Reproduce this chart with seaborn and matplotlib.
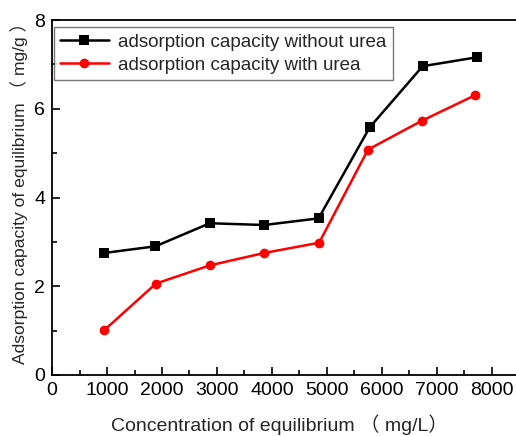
import matplotlib
matplotlib.use("Agg")
import matplotlib.pyplot as plt
from matplotlib.ticker import MultipleLocator
import seaborn as sns
import pandas as pd

# Equilibrium concentration (mg/L) and adsorption capacity (mg/g)
conc_without = [950, 1880, 2870, 3860, 4850, 5780, 6745, 7730]
cap_without = [2.75, 2.90, 3.42, 3.38, 3.53, 5.58, 6.96, 7.16]
conc_with = [950, 1890, 2870, 3860, 4860, 5750, 6730, 7690]
cap_with = [1.01, 2.06, 2.47, 2.75, 2.98, 5.08, 5.73, 6.30]
series_names = ["adsorption capacity without urea", "adsorption capacity with urea"]

df = pd.concat([
    pd.DataFrame({"conc": conc_without, "cap": cap_without, "series": series_names[0]}),
    pd.DataFrame({"conc": conc_with, "cap": cap_with, "series": series_names[1]}),
])

sns.set_style("white")
plt.rcParams["font.family"] = ["Liberation Sans", "Noto Sans CJK SC", "DejaVu Sans"]

fig = plt.figure(figsize=(5.16, 4.36), dpi=100)
ax = fig.add_axes([0.101, 0.140, 0.905, 0.814])

sns.lineplot(data=df, x="conc", y="cap", hue="series", style="series",
             hue_order=series_names, style_order=series_names,
             palette=["black", "#ff0000"], markers=["s", "o"], dashes=False,
             markersize=7, markeredgewidth=0, linewidth=1.8, ax=ax)

ax.set_xlim(0, 8500)
ax.set_ylim(0, 8)
ax.xaxis.set_major_locator(MultipleLocator(1000))
ax.xaxis.set_minor_locator(MultipleLocator(500))
ax.yaxis.set_major_locator(MultipleLocator(2))
ax.yaxis.set_minor_locator(MultipleLocator(1))
ax.tick_params(which="both", direction="in", bottom=True, left=True,
               top=False, right=False, width=1.2, color="black")
ax.tick_params(which="major", length=6, labelsize=14, pad=5, labelcolor="black")
ax.tick_params(which="minor", length=3.5)
for side in ["left", "bottom", "top"]:
    ax.spines[side].set_color("black")
    ax.spines[side].set_linewidth(1.3)
ax.spines["right"].set_visible(False)

ax.set_xlabel("Concentration of equilibrium （ mg/L）", fontsize=14,
              va="center", ha="center")
ax.xaxis.set_label_coords(0.486, -0.141)
ax.set_ylabel("Adsorption capacity of equilibrium （ mg/g ）", fontsize=12.6,
              va="center", ha="center")
ax.yaxis.set_label_coords(-0.07, 0.524)

leg = ax.legend(loc="upper left", fontsize=13.5, frameon=True, fancybox=False,
                edgecolor="#555555", borderpad=0.35, handlelength=2.6,
                handletextpad=0.5, bbox_to_anchor=(0.003, 0.98), borderaxespad=0,
                labelspacing=0.3)
leg.get_frame().set_linewidth(1.0)

fig.savefig("out.png", dpi=100)
